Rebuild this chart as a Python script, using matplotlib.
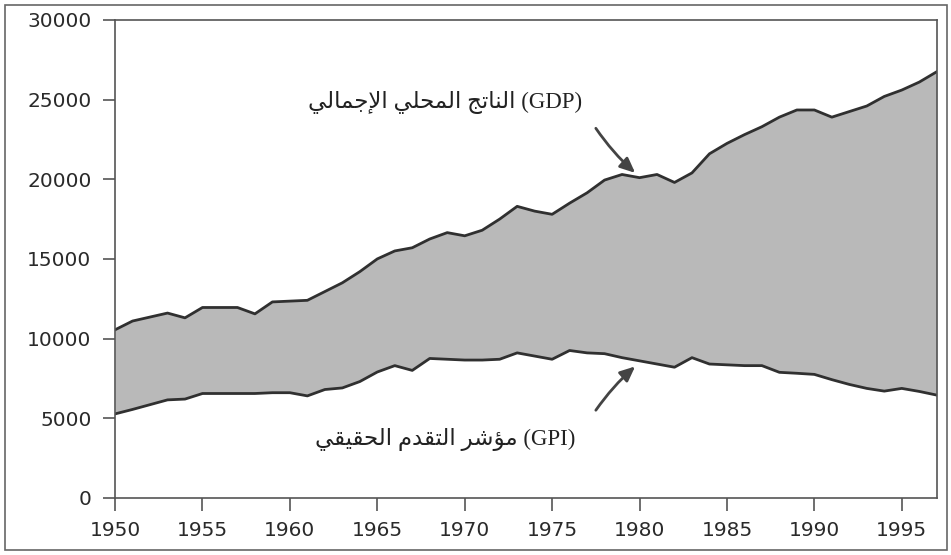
import numpy as np
import matplotlib.pyplot as plt
from matplotlib.patches import Rectangle

# values
years = list(range(1950, 1998))
gdp = [10550, 11100, 11350, 11600, 11300, 11950, 11950, 11950, 11550, 12300,
       12350, 12400, 12950, 13500, 14200, 15000, 15500, 15700, 16250, 16650,
       16450, 16800, 17500, 18300, 18000, 17800, 18500, 19150, 19950, 20300,
       20100, 20300, 19800, 20400, 21600, 22250, 22800, 23300, 23900, 24350,
       24350, 23900, 24250, 24600, 25200, 25600, 26100, 26750]
gpi = [5270, 5550, 5850, 6150, 6200, 6550, 6550, 6550, 6550, 6600,
       6600, 6400, 6800, 6900, 7300, 7900, 8300, 8000, 8750, 8700,
       8650, 8650, 8700, 9100, 8900, 8700, 9250, 9100, 9050, 8800,
       8600, 8400, 8200, 8800, 8400, 8350, 8300, 8300, 7880, 7820,
       7750, 7420, 7120, 6870, 6700, 6870, 6680, 6450]
x_ticks = [1950, 1955, 1960, 1965, 1970, 1975, 1980, 1985, 1990, 1995]
y_ticks = [0, 5000, 10000, 15000, 20000, 25000, 30000]

gdp_label_ar = 'الناتج المحلي الإجمالي'
gpi_label_ar = 'مؤشر التقدم الحقيقي'

# matplotlib has no Arabic shaping, so pick presentation forms by hand
FORMS = {
    'ا': ('\uFE8D', '\uFE8E'),
    'إ': ('\uFE87', '\uFE88'),
    'ؤ': ('\uFE85', '\uFE86'),
    'د': ('\uFEA9', '\uFEAA'),
    'ر': ('\uFEAD', '\uFEAE'),
    'ت': ('\uFE95', '\uFE96', '\uFE97', '\uFE98'),
    'ج': ('\uFE9D', '\uFE9E', '\uFE9F', '\uFEA0'),
    'ح': ('\uFEA1', '\uFEA2', '\uFEA3', '\uFEA4'),
    'ش': ('\uFEB5', '\uFEB6', '\uFEB7', '\uFEB8'),
    'ق': ('\uFED5', '\uFED6', '\uFED7', '\uFED8'),
    'ل': ('\uFEDD', '\uFEDE', '\uFEDF', '\uFEE0'),
    'م': ('\uFEE1', '\uFEE2', '\uFEE3', '\uFEE4'),
    'ن': ('\uFEE5', '\uFEE6', '\uFEE7', '\uFEE8'),
    'ي': ('\uFEF1', '\uFEF2', '\uFEF3', '\uFEF4'),
}
LAM_ALEF = {'ا': ('\uFEFB', '\uFEFC'), 'إ': ('\uFEF9', '\uFEFA'),
            'أ': ('\uFEF7', '\uFEF8'), 'آ': ('\uFEF5', '\uFEF6')}


def shape(text):
    units = []
    i = 0
    while i < len(text):
        if text[i] == 'ل' and i + 1 < len(text) and text[i + 1] in LAM_ALEF:
            units.append(LAM_ALEF[text[i + 1]])
            i += 2
        else:
            units.append(FORMS.get(text[i], text[i]))
            i += 1
    out = []
    for k, f in enumerate(units):
        if isinstance(f, str):
            out.append(f)
            continue
        prev = units[k - 1] if k > 0 else None
        nxt = units[k + 1] if k + 1 < len(units) else None
        join_prev = isinstance(prev, tuple) and len(prev) == 4
        join_next = len(f) == 4 and isinstance(nxt, tuple)
        if join_prev and join_next:
            out.append(f[3])
        elif join_prev:
            out.append(f[1])
        elif join_next:
            out.append(f[2])
        else:
            out.append(f[0])
    return ''.join(reversed(out))


fig = plt.figure(figsize=(9.51, 5.55), dpi=100)
ax = fig.add_axes([0.121, 0.103, 0.864, 0.861])

ax.fill_between(years, gpi, gdp, color='#b9b9b9', linewidth=0)
ax.plot(years, gdp, color='#303030', lw=2.0)
ax.plot(years, gpi, color='#303030', lw=2.0)

ax.set_xlim(1950, 1997)
ax.set_ylim(0, 30000)
ax.set_xticks(x_ticks)
ax.set_yticks(y_ticks)
ax.tick_params(direction='out', length=9, width=1.2, color='#555555',
               labelsize=14.5, labelcolor='#2a2a2a', pad=8)
for tl in ax.get_xticklabels() + ax.get_yticklabels():
    tl.set_family('DejaVu Sans')
for s in ax.spines.values():
    s.set_color('#555555')
    s.set_linewidth(1.2)

txt_fam = ['Liberation Serif', 'DejaVu Sans']
ax.text(1968.9, 24800, shape(gdp_label_ar) + ' (GDP)', family=txt_fam,
        fontsize=16.5, color='#222222', ha='center', va='center')
ax.text(1968.9, 3650, shape(gpi_label_ar) + ' (GPI)', family=txt_fam,
        fontsize=16.5, color='#222222', ha='center', va='center')

arrow = dict(arrowstyle='-|>,head_length=0.9,head_width=0.4', color='#444444',
             lw=2.0, shrinkA=0, shrinkB=0)
ax.annotate('', xy=(1979.75, 20400), xytext=(1977.5, 23200),
            arrowprops=dict(arrow, connectionstyle='arc3,rad=0.06'))
ax.annotate('', xy=(1979.75, 8250), xytext=(1977.5, 5500),
            arrowprops=dict(arrow, connectionstyle='arc3,rad=-0.06'))

# outer frame around the whole figure
fig.patches.append(Rectangle((5 / 951, 5 / 555), 942 / 951, 545 / 555,
                             transform=fig.transFigure, fill=False,
                             edgecolor='#666666', lw=1.2))

fig.savefig('out.png', dpi=100)
